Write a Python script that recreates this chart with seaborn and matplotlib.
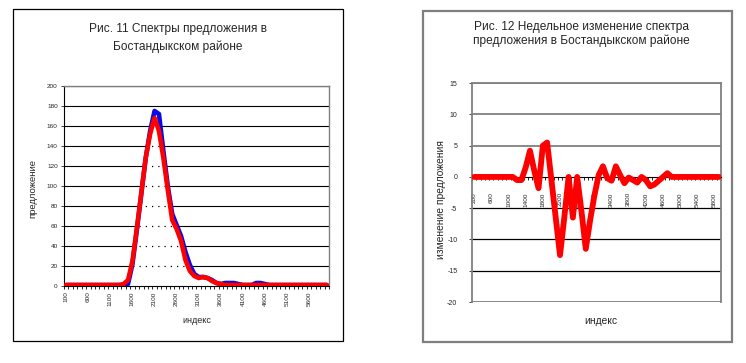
import numpy as np
import pandas as pd
import matplotlib
matplotlib.use("Agg")
import matplotlib.pyplot as plt
import seaborn as sns
from matplotlib.patches import Rectangle
from matplotlib.ticker import FixedLocator

# ---------------- data ----------------
# Chart 11: supply spectra (two weeks), categories 100..6000
index1 = list(range(100, 6100, 100))
supply_blue = [1, 1, 1, 1, 1, 1, 1, 1, 1, 1, 1, 1,
               1, 1, 2, 22, 56, 92, 128, 155, 175, 172, 135, 100, 72, 61, 50, 34, 21, 12,
               9, 9, 8, 6, 3, 2, 3, 3, 3, 2, 1, 1, 1, 3, 3, 2,
               1, 1, 1, 1, 1, 1, 1, 1, 1, 1, 1, 1, 1, 1]
supply_red = [1, 1, 1, 1, 1, 1, 1, 1, 1, 1, 1, 1,
              1, 2, 6, 25, 58, 93, 128, 152, 168, 155, 128, 96, 66, 57, 45, 26, 15, 10,
              8, 9, 8, 5, 3, 2,
              1, 1, 1, 1, 1, 1, 1, 1, 1, 1, 1, 1, 1, 1, 1, 1, 1, 1, 1, 1, 1, 1, 1, 1]
ticklabels1 = [100, 600, 1100, 1600, 2100, 2600, 3100, 3600, 4100, 4600, 5100, 5600]
yticks1 = [0, 20, 40, 60, 80, 100, 120, 140, 160, 180, 200]

# Chart 12: weekly change, categories 200..5900
index2 = list(range(200, 6000, 100))
change = [0, 0, 0, 0, 0, 0, 0, 0, 0, 0,
          -0.5, -0.5, 1.5, 4.2, 1.0, -1.8, 5.0, 5.5, -0.5, -6.5,
          -12.5, -6.5, 0, -6.5, 0, -5.5, -11.5, -7.0, -3.0, 0.3,
          1.7, -0.2, -0.6, 1.7, 0.3, -1.0, -0.1, -0.5, -0.9, 0,
          -0.5, -1.5, -1.2, -0.6, 0, 0.6, 0,
          0, 0, 0, 0, 0, 0, 0, 0, 0, 0, 0]
ticklabels2 = [200, 600, 1000, 1400, 1800, 2200, 2600, 3000, 3400, 3800, 4200, 4600, 5000, 5400, 5800]
yticks2 = [-20, -15, -10, -5, 0, 5, 10, 15]

# ---------------- style ----------------
sns.set_style("white")
plt.rcParams['font.family'] = ['Liberation Sans', 'DejaVu Sans']
plt.rcParams['axes.unicode_minus'] = False

fig = plt.figure(figsize=(7.46, 3.63), dpi=100)

# outer frames
fig.patches.append(Rectangle((0.0174, 0.0606), 0.4424, 0.9146, transform=fig.transFigure,
                             fill=False, ec='black', lw=0.9))
fig.patches.append(Rectangle((0.567, 0.0579), 0.4142, 0.912, transform=fig.transFigure,
                             fill=False, ec='#7f7f7f', lw=1.6))

GREY = '#808080'

# ---------------- chart 11 ----------------
ax1 = fig.add_axes([0.0858, 0.2121, 0.3552, 0.551])
df1 = pd.DataFrame({'индекс': index1, 'blue': supply_blue, 'red': supply_red})
env = np.maximum(df1['blue'].values, df1['red'].values)
poly = ax1.fill_between(df1['индекс'], 0, env, color='white', zorder=1, lw=0)
sns.lineplot(data=df1, x='индекс', y='blue', color='#0a0ae6', lw=3.3, ax=ax1, zorder=3)
sns.lineplot(data=df1, x='индекс', y='red', color='#ff0000', lw=3.3, ax=ax1, zorder=4)

ax1.set_xlim(index1[0] - 50, index1[-1] + 50)
ax1.set_ylim(yticks1[0], yticks1[-1])
ax1.set_yticks(yticks1)
ax1.yaxis.grid(True, color='black', lw=0.8)
ax1.set_axisbelow(True)

# dotted remnants of the gridlines inside the area under the curve
clip_path = poly.get_paths()[0]
for yv in yticks1[1:-1]:
    ln = ax1.axhline(yv, color='black', lw=0.9, ls=(0, (1, 4)), zorder=1.5)
    ln.set_clip_path(clip_path, poly.get_transform())

ax1.xaxis.set_major_locator(FixedLocator(ticklabels1))
ax1.set_xticklabels([str(t) for t in ticklabels1])
ax1.xaxis.set_minor_locator(FixedLocator(list(np.array(index1) - 50) + [index1[-1] + 50]))
ax1.tick_params(axis='x', which='major', length=0, pad=4, labelsize=4.6, labelrotation=90)
ax1.tick_params(axis='x', which='minor', length=2.5, width=0.6, color='black', direction='out', bottom=True)
ax1.tick_params(axis='y', length=2.5, width=0.6, pad=2, labelsize=4.6, left=True, direction='out')
for s in ['left', 'bottom']:
    ax1.spines[s].set_color('black')
    ax1.spines[s].set_linewidth(0.8)
for s in ['top', 'right']:
    ax1.spines[s].set_color(GREY)
    ax1.spines[s].set_linewidth(1.0)

ax1.set_xlabel('индекс', fontsize=6.5, va='center')
ax1.xaxis.set_label_coords(0.502, -0.17)
ax1.set_ylabel('предложение', fontsize=6.8, va='center')
ax1.yaxis.set_label_coords(-0.117, 0.49)

fig.text(0.238, 1 - 38 / 363, 'Рис. 11 Спектры предложения в\nБостандыкском районе',
         ha='center', va='center', fontsize=8.6, linespacing=1.55)

# ---------------- chart 12 ----------------
ax2 = fig.add_axes([0.6327, 0.168, 0.3338, 0.603])
df2 = pd.DataFrame({'индекс': index2, 'change': change})
sns.lineplot(data=df2, x='индекс', y='change', color='#ff0000', lw=4.2, ax=ax2, zorder=4)

ax2.set_xlim(index2[0] - 50, index2[-1] + 50)
ax2.set_ylim(yticks2[0], yticks2[-1])
ax2.set_yticks(yticks2)
ax2.yaxis.grid(True)
ax2.set_axisbelow(True)
for gl, yv in zip(ax2.yaxis.get_gridlines(), yticks2):
    if yv == 0:
        gl.set_visible(False)
    elif yv > 0 or yv == -20:
        gl.set_color(GREY)
        gl.set_linewidth(1.3)
    else:
        gl.set_color('black')
        gl.set_linewidth(0.9)

ax2.spines['bottom'].set_position(('data', 0))
ax2.spines['bottom'].set_color('black')
ax2.spines['bottom'].set_linewidth(0.8)
for s in ['left', 'right', 'top']:
    ax2.spines[s].set_color(GREY)
    ax2.spines[s].set_linewidth(1.3)

ax2.xaxis.set_major_locator(FixedLocator(ticklabels2))
ax2.set_xticklabels([str(t) for t in ticklabels2])
ax2.xaxis.set_minor_locator(FixedLocator(list(np.array(index2) - 50) + [index2[-1] + 50]))
ax2.tick_params(axis='x', which='major', length=0, pad=11, labelsize=4.6, labelrotation=90)
ax2.tick_params(axis='x', which='minor', length=2.0, width=0.6, color='black', direction='out', bottom=True)
ax2.tick_params(axis='y', length=2.5, width=0.6, pad=8, labelsize=5.0, left=True, direction='out')

ax2.set_xlabel('индекс', fontsize=7.4, va='center')
ax2.xaxis.set_label_coords(0.518, -0.087)
ax2.set_ylabel('изменение предложения', fontsize=7.4, va='center')
ax2.yaxis.set_label_coords(-0.125, 0.47)

fig.text(0.779, 1 - 34 / 363, 'Рис. 12 Недельное изменение спектра\nпредложения в Бостандыкском районе',
         ha='center', va='center', fontsize=8.6, linespacing=1.15)

fig.savefig('out.png', dpi=100)
